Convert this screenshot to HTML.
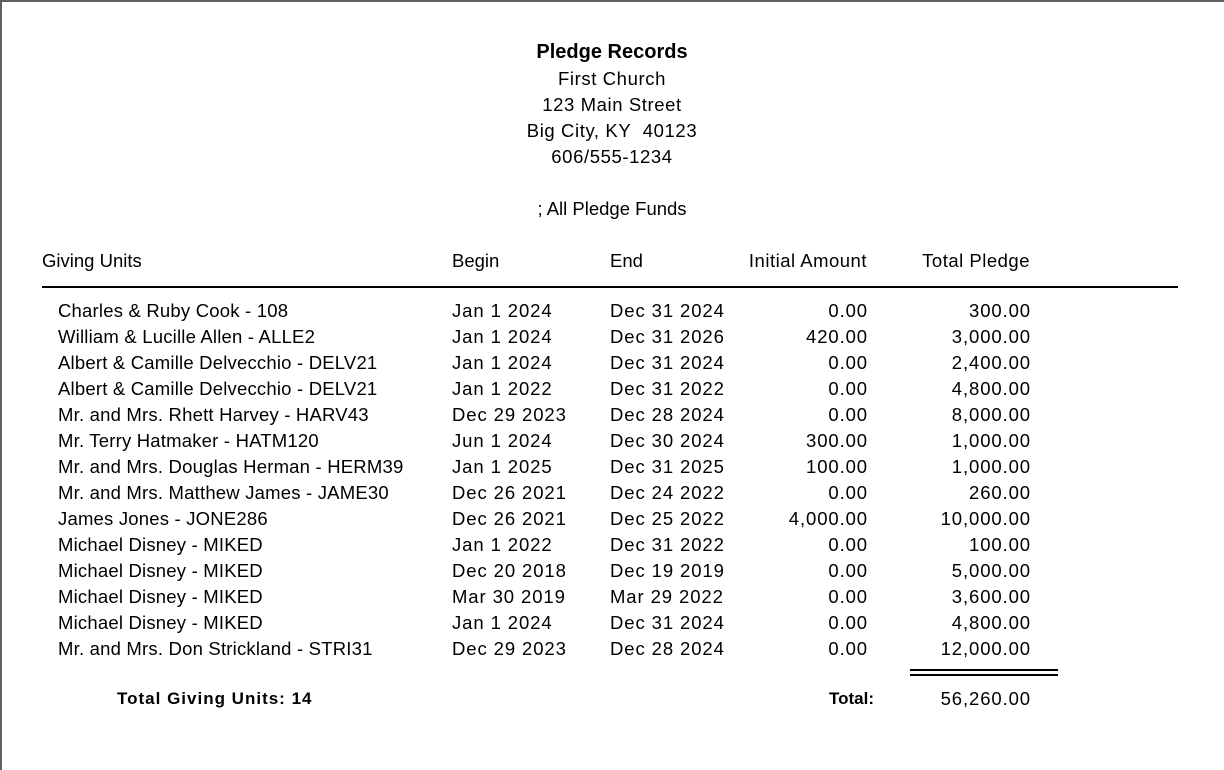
<!DOCTYPE html>
<html><head><meta charset="utf-8"><style>
body{margin:0;width:1224px;height:770px;background:#fff;position:relative;overflow:hidden;font-family:"Liberation Sans",sans-serif;font-size:18.5px;color:#000}
.b{position:absolute;background:#606060}
.t{position:absolute;line-height:26px;height:26px;white-space:nowrap}
.c{left:0;width:1224px;text-align:center}
.r{text-align:right}
.n{letter-spacing:0.9px}
</style></head><body>
<div class="b" style="left:0;top:0;width:1224px;height:2px"></div>
<div class="b" style="left:0;top:0;width:2px;height:770px"></div>
<div class="t c" style="top:39px;font-weight:bold;font-size:20px">Pledge Records</div>
<div class="t c" style="top:66px;letter-spacing:0.6px">First Church</div>
<div class="t c" style="top:92px;letter-spacing:0.6px">123 Main Street</div>
<div class="t c" style="top:118px;letter-spacing:0.6px">Big City, KY&nbsp; 40123</div>
<div class="t c" style="top:144px;letter-spacing:0.6px">606/555-1234</div>
<div class="t c" style="top:196px">; All Pledge Funds</div>
<div class="t" style="top:248px;left:42px">Giving Units</div>
<div class="t" style="top:248px;left:452px">Begin</div>
<div class="t" style="top:248px;left:610px">End</div>
<div class="t r" style="top:248px;right:357px;letter-spacing:0.5px">Initial Amount</div>
<div class="t r" style="top:248px;right:194px;letter-spacing:0.5px">Total Pledge</div>
<div style="position:absolute;left:42px;top:286px;width:1136px;height:2px;background:#000"></div>
<div id="rows"></div>
<div style="position:absolute;left:910px;top:669px;width:148px;height:2px;background:#000"></div>
<div style="position:absolute;left:910px;top:674px;width:148px;height:2px;background:#000"></div>
<div class="t" style="top:686px;left:117px;font-weight:bold;font-size:17px;letter-spacing:1px">Total Giving Units: 14</div>
<div class="t r" style="top:686px;right:350px;font-weight:bold;font-size:17px">Total:</div>
<div class="t r n" style="top:686px;right:193px">56,260.00</div>
<script>
var d=[["Charles & Ruby Cook - 108","Jan 1 2024","Dec 31 2024","0.00","300.00"],
["William & Lucille Allen - ALLE2","Jan 1 2024","Dec 31 2026","420.00","3,000.00"],
["Albert & Camille Delvecchio - DELV21","Jan 1 2024","Dec 31 2024","0.00","2,400.00"],
["Albert & Camille Delvecchio - DELV21","Jan 1 2022","Dec 31 2022","0.00","4,800.00"],
["Mr. and Mrs. Rhett Harvey - HARV43","Dec 29 2023","Dec 28 2024","0.00","8,000.00"],
["Mr. Terry Hatmaker - HATM120","Jun 1 2024","Dec 30 2024","300.00","1,000.00"],
["Mr. and Mrs. Douglas Herman - HERM39","Jan 1 2025","Dec 31 2025","100.00","1,000.00"],
["Mr. and Mrs. Matthew James - JAME30","Dec 26 2021","Dec 24 2022","0.00","260.00"],
["James Jones - JONE286","Dec 26 2021","Dec 25 2022","4,000.00","10,000.00"],
["Michael Disney - MIKED","Jan 1 2022","Dec 31 2022","0.00","100.00"],
["Michael Disney - MIKED","Dec 20 2018","Dec 19 2019","0.00","5,000.00"],
["Michael Disney - MIKED","Mar 30 2019","Mar 29 2022","0.00","3,600.00"],
["Michael Disney - MIKED","Jan 1 2024","Dec 31 2024","0.00","4,800.00"],
["Mr. and Mrs. Don Strickland - STRI31","Dec 29 2023","Dec 28 2024","0.00","12,000.00"]];
var h="";d.forEach(function(r,i){var t=298+i*26;
h+='<div class="t" style="top:'+t+'px;left:58px;letter-spacing:0.2px">'+r[0].replace(/&/g,"&amp;")+'</div>'+
'<div class="t n" style="top:'+t+'px;left:452px">'+r[1]+'</div>'+
'<div class="t n" style="top:'+t+'px;left:610px">'+r[2]+'</div>'+
'<div class="t r n" style="top:'+t+'px;right:356px">'+r[3]+'</div>'+
'<div class="t r n" style="top:'+t+'px;right:193px">'+r[4]+'</div>';});
document.getElementById("rows").outerHTML=h;
</script>
</body></html>
